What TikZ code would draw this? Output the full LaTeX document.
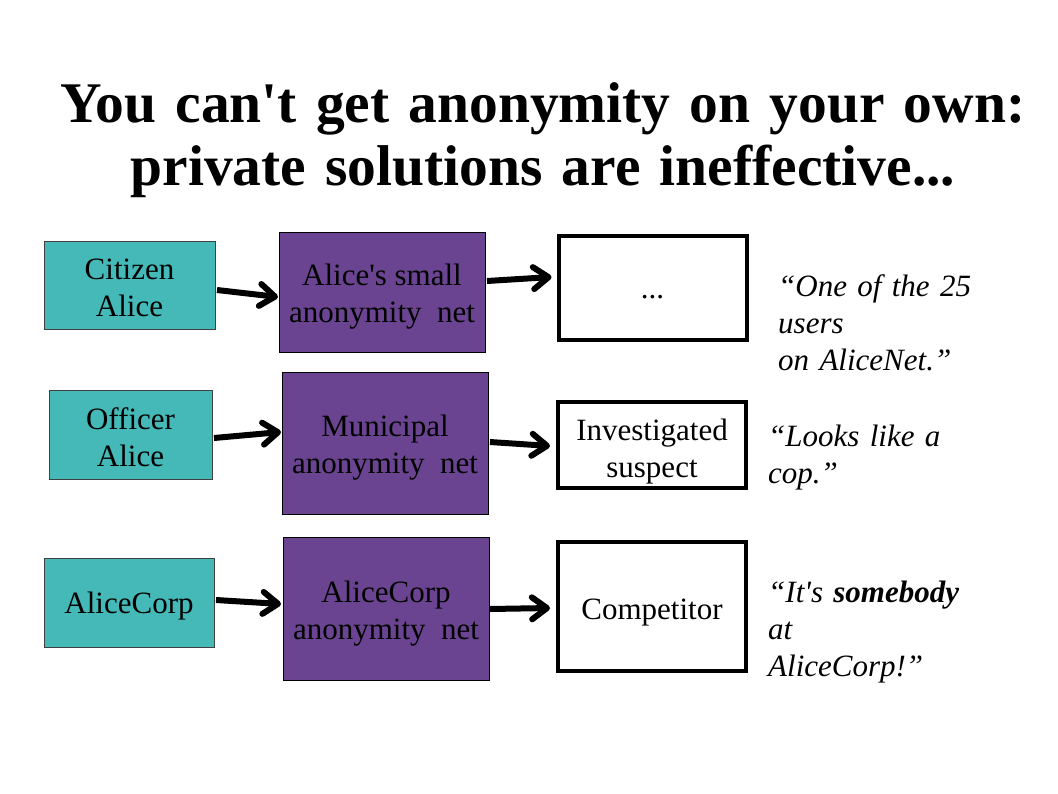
\documentclass[tikz,border=0pt]{standalone}
\usepackage{fontspec}
\setmainfont{Liberation Serif}
\usetikzlibrary{arrows.meta}

\definecolor{tealbox}{RGB}{69,184,184}
\definecolor{purplebox}{RGB}{106,68,145}

\newcommand{\sq}{\textquotesingle}
\newcommand{\padtop}[1][31pt]{\rule{0pt}{#1}}

\tikzset{
  who/.style={draw=black!75, fill=tealbox, line width=1pt, inner sep=0pt, outer sep=0pt,
    align=center, font=\fontsize{31}{37}\selectfont},
  net/.style={who, draw=black, fill=purplebox, minimum width=206pt},
  seen/.style={who, draw=black, fill=white, line width=4pt, minimum width=188pt},
  quote/.style={anchor=base west, inner sep=0pt, text width=240pt, align=left,
    font=\fontsize{31}{37}\selectfont\itshape},
  flow/.style={line width=6pt, -{Straight Barb[length=15pt, width=22pt, round]}},
}

\begin{document}
\begin{tikzpicture}[x=1pt, y=-1pt]

\fill [white] (0,0) rectangle (1058,793);
\useasboundingbox (0,0) rectangle (1058,793);

\node [anchor=base, inner sep=0pt, text width=1058pt, align=center,
  font=\fontsize{57.5}{63}\selectfont\bfseries] (title) at (543,122)
  {You can\sq t get anonymity on your own:\\ private solutions are ineffective...};

% who wants anonymity
\node [who, minimum width=171pt, minimum height=88pt] (citizen) at (129.5,285) {\padtop[27pt]Citizen\\ Alice};
\node [who, minimum width=163pt, minimum height=89pt] (officer) at (130.5,434.5) {\padtop[27pt]Officer\\ Alice};
\node [who, minimum width=170pt, minimum height=89pt] (corp) at (129,602.5) {\padtop[29pt]AliceCorp};

% the nets
\node [net, minimum height=120pt] (smallnet) at (382,292) {\padtop Alice\sq s small\\ anonymity~~net};
\node [net, minimum height=142pt] (citynet) at (385,443) {\padtop Municipal\\ anonymity~~net};
\node [net, minimum height=143pt] (corpnet) at (386,608.5) {\padtop AliceCorp\\ anonymity~~net};

% what the observer sees
\node [seen, minimum height=104pt] (dots) at (652.5,288) {\padtop[21pt]...};
\node [seen, minimum height=86pt] (suspect) at (652,445) {\padtop[34pt]Investigated\\ suspect};
\node [seen, minimum height=129pt] (rival) at (652,606.5) {\padtop[33pt]Competitor};

\draw [flow] ([shift={(2,5)}]citizen.east) -- ([shift={(-1,5)}]smallnet.west);
\draw [flow] ([shift={(2,-11)}]smallnet.east) -- ([shift={(-7,-11)}]dots.west);
\draw [flow] ([shift={(2,3.5)}]officer.east) -- ([shift={(-1,-11)}]citynet.west);
\draw [flow] ([shift={(2,-1)}]citynet.east) -- ([shift={(-8,1)}]suspect.west);
\draw [flow] ([shift={(2,-2.5)}]corp.east) -- ([shift={(-2,-4.5)}]corpnet.west);
\draw [flow] ([shift={(1,0.5)}]corpnet.east) -- ([shift={(-8,1.5)}]rival.west);

\node [quote] (q1) at (778,296) {“One of the 25\\ users\\ on AliceNet.”};
\node [quote] (q2) at (768,446) {“Looks like a\\ cop.”};
\node [quote] (q3) at (768,602) {“It\sq s \textbf{somebody}\\ at\\ AliceCorp!”};

\end{tikzpicture}
\end{document}
